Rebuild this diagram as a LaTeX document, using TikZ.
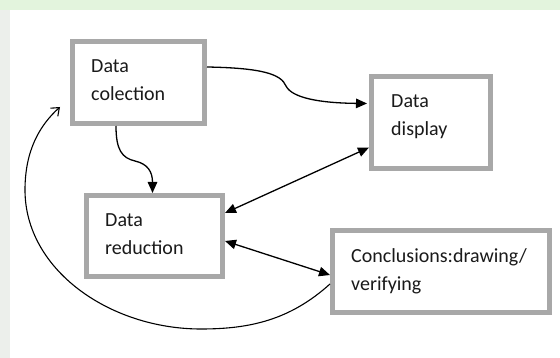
\documentclass[tikz,border=0pt]{standalone}
\usepackage{fontspec}
\setmainfont{Carlito}
\usetikzlibrary{arrows.meta}
\definecolor{boxgray}{HTML}{A8A8A8}
\definecolor{bandgreen}{HTML}{E3F4DD}
\definecolor{bandgray}{HTML}{ECEFEB}
\definecolor{inkc}{HTML}{1A1A1A}
\tikzset{
  box/.style={draw=boxgray, line width=5pt, fill=white, inner sep=0pt},
  lbl/.style={anchor=base west, inner sep=0pt, align=left, text width=200pt,
    text=inkc, font=\fontsize{20}{28}\selectfont},
  conn/.style={draw=black, line width=1.3pt},
  ftip/.style={-{Triangle[length=11pt,width=9.5pt]}},
  ftips/.style={{Triangle[length=11pt,width=9.5pt]}-{Triangle[length=11pt,width=9.5pt]}},
  otip/.style={-{Straight Barb[length=7pt,width=11pt,line width=1.1pt]}}
}
\begin{document}
\begin{tikzpicture}[x=1pt,y=-1pt]
  \useasboundingbox (0,0) rectangle (560,358);
  % background bands
  \fill[bandgray] (0,0) rectangle (560,358);
  \fill[bandgreen] (0,0) rectangle (560,10);
  \fill[white] (10,10) rectangle (560,358);

  % boxes
  \node[box, minimum width=132pt, minimum height=82pt] (dc)  at (138.5,82.5) {};
  \node[box, minimum width=119pt, minimum height=92pt] (dd)  at (431,122.5) {};
  \node[box, minimum width=136pt, minimum height=81pt] (dr)  at (154.5,236) {};
  \node[box, minimum width=217pt, minimum height=82pt] (dcv) at (441,271.5) {};

  % labels
  \node[lbl] (dct)  at (91,73)   {Data\\colection};
  \node[lbl] (ddt)  at (391,108) {Data\\display};
  \node[lbl] (drt)  at (105,227) {Data\\reduction};
  \node[lbl] (dcvt) at (351,263) {Conclusions:drawing/\\verifying};

  % connectors
  \draw[conn, ftip] ([yshift=15.5pt]dc.east)
     .. controls (262,68) and (281,74) .. (286,86)
     .. controls (292,98) and (320,103) .. ([yshift=19pt,xshift=-2pt]dd.west);
  \draw[conn, ftip] ([xshift=-22.5pt]dc.south)
     .. controls (116,150) and (122,158) .. (135,161)
     .. controls (148,164) and (152.5,172) .. ([xshift=-2pt]dr.north);
  \draw[conn, ftips] ([yshift=-25pt]dd.west) -- ([yshift=23pt]dr.east);
  \draw[conn, ftips] ([yshift=-5pt]dr.east) -- ([yshift=-3.5pt]dcv.west);
  \coordinate (c5e) at (60,107);
  \draw[conn, line width=1.1pt, otip] ([yshift=-12.5pt]dcv.west)
     .. controls (290,320) and (250,329) .. (201,329)
     .. controls (110,329) and (25,270) .. (25,190)
     .. controls (25,150) and (40,125) .. (c5e);
\end{tikzpicture}
\end{document}
